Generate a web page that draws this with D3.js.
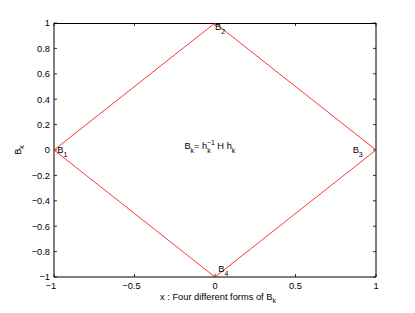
<!DOCTYPE html>
<html>
<head>
<meta charset="utf-8">
<script src="https://cdn.jsdelivr.net/npm/d3@7"></script>
<style>
body { margin: 0; background: #fff; }
svg text { font-family: "Liberation Sans", Arial, sans-serif; fill: #000; }
</style>
</head>
<body>
<div class="canvas"></div>
<script>
// diamond path through the four B_k points
const pathX = [-1, 0, 1, 0, -1];
const pathY = [0, 1, 0, -1, 0];
const xTicks = [-1, -0.5, 0, 0.5, 1];
const yTicks = [-1, -0.8, -0.6, -0.4, -0.2, 0, 0.2, 0.4, 0.6, 0.8, 1];
const pointLabels = ['1', '2', '3', '4'];
const labelX = [-0.98, 0, 0.855, 0.02];
const labelY = [0, 0.97, 0, -0.94];

const W = 415, H = 313;
const m = { t: 23, r: 39, b: 36, l: 54 };
const fs = '9.3px', fsSub = '7px';

const svg = d3.select('.canvas').append('svg')
	.attr('width', W)
	.attr('height', H);

const x = d3.scaleLinear().domain([-1, 1]).range([m.l, W - m.r]);
const y = d3.scaleLinear().domain([-1, 1]).range([H - m.b, m.t]);

const fmt = d => (d < 0 ? '\u2212' : '') + Math.abs(d);

// box
const x0 = x(-1), x1 = x(1), y0 = y(-1), y1 = y(1);
const box = svg.append('g').attr('stroke', '#000').attr('stroke-width', 1);
box.append('line').attr('x1', x0).attr('x2', x1).attr('y1', y1 + 0.5).attr('y2', y1 + 0.5);
box.append('line').attr('x1', x0).attr('x2', x1).attr('y1', y0).attr('y2', y0);
box.append('line').attr('x1', x0).attr('x2', x0).attr('y1', y1).attr('y2', y0);
box.append('line').attr('x1', x1).attr('x2', x1).attr('y1', y1).attr('y2', y0);

// ticks (inward, on all four sides)
const tl = 3;
const ticks = svg.append('g').attr('stroke', '#000').attr('stroke-width', 0.8);
xTicks.forEach(t => {
	ticks.append('line').attr('x1', x(t)).attr('x2', x(t)).attr('y1', y0).attr('y2', y0 - tl);
	ticks.append('line').attr('x1', x(t)).attr('x2', x(t)).attr('y1', y1).attr('y2', y1 + tl);
});
yTicks.forEach(t => {
	ticks.append('line').attr('x1', x0).attr('x2', x0 + tl).attr('y1', y(t)).attr('y2', y(t));
	ticks.append('line').attr('x1', x1).attr('x2', x1 - tl).attr('y1', y(t)).attr('y2', y(t));
});

// tick labels
svg.append('g').selectAll('text')
	.data(xTicks)
	.enter()
	.append('text')
	.attr('x', d => x(d) - (d < 0 ? 3 : 0))
	.attr('y', y0 + 12)
	.attr('text-anchor', 'middle')
	.style('font-size', fs)
	.text(fmt);

svg.append('g').selectAll('text')
	.data(yTicks)
	.enter()
	.append('text')
	.attr('x', x0 - 4)
	.attr('y', d => y(d) + 3.3)
	.attr('text-anchor', 'end')
	.style('font-size', fs)
	.text(fmt);

// axis labels
const xl = svg.append('text')
	.attr('x', (x0 + x1) / 2 + 3)
	.attr('y', 300)
	.attr('text-anchor', 'middle')
	.style('font-size', fs);
xl.append('tspan').text('x : Four different forms of B');
xl.append('tspan').attr('dy', 3).style('font-size', fsSub).text('k');

const yl = svg.append('text')
	.attr('transform', `translate(21,${(y0 + y1) / 2}) rotate(-90)`)
	.attr('text-anchor', 'middle')
	.style('font-size', fs);
yl.append('tspan').text('B');
yl.append('tspan').attr('dy', 3).style('font-size', fsSub).text('k');

// diamond
const line = d3.line().x(d => x(d[0])).y(d => y(d[1]));
svg.append('path')
	.datum(pathX.map((v, i) => [v, pathY[i]]))
	.attr('d', line)
	.attr('fill', 'none')
	.attr('stroke', '#ff0000')
	.attr('stroke-width', 0.8);

// point labels B_1..B_4
pointLabels.forEach((s, i) => {
	const t = svg.append('text')
		.attr('x', x(labelX[i]))
		.attr('y', y(labelY[i]) + 3)
		.style('font-size', fs);
	t.append('tspan').text('B');
	t.append('tspan').attr('dy', 4).style('font-size', fsSub).text(s);
});

// formula B_k = h_k^{-1} H h_k
const f = svg.append('text')
	.attr('x', x(-0.19))
	.attr('y', y(0.03) + 3)
	.style('font-size', fs);
f.append('tspan').text('B');
f.append('tspan').attr('dy', 4).style('font-size', fsSub).text('k');
f.append('tspan').attr('dy', -4).text('= h');
f.append('tspan').attr('dy', 4).style('font-size', fsSub).text('k');
f.append('tspan').attr('dx', -4).attr('dy', -8).style('font-size', fsSub).text('\u22121');
f.append('tspan').attr('dy', 4).text(' H h');
f.append('tspan').attr('dy', 4).style('font-size', fsSub).text('k');
</script>
</body>
</html>
